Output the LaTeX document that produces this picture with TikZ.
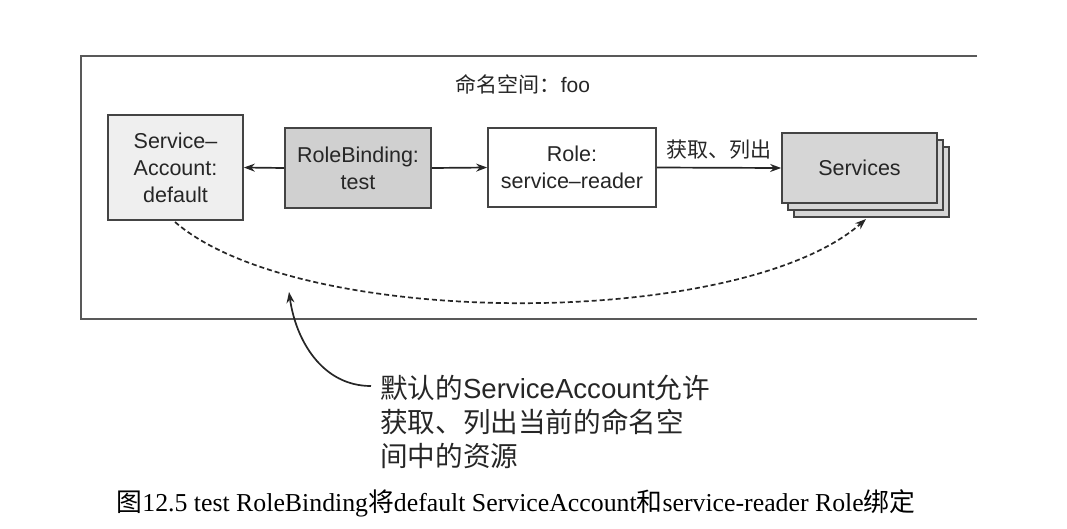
\documentclass[tikz,border=0pt]{standalone}
\usepackage{fontspec}
\setmainfont{Liberation Sans}
\newfontfamily\cjk{Noto Sans CJK SC}
\newfontfamily\capserif{Liberation Serif}
\usetikzlibrary{arrows.meta}
\definecolor{edge}{HTML}{444444}
\definecolor{lightfill}{HTML}{EFEFEF}
\definecolor{midfill}{HTML}{D0D0D0}
\definecolor{svcfill}{HTML}{D6D6D6}
\tikzset{
  box/.style={draw=edge, line width=1.7pt, minimum width=#1, align=center, inner sep=0pt, text=black!85,
    font=\fontsize{21.5}{27}\selectfont},
  conn/.style={line width=1.7pt, draw=black!85, -{Stealth[length=11pt,width=8pt]}},
  dashconn/.style={line width=1.7pt, draw=black!85, dash pattern=on 5pt off 3pt, -{Stealth[length=11pt,width=8pt]}},
}
\begin{document}
\begin{tikzpicture}[x=1pt,y=-1pt]
\useasboundingbox (0,0) rectangle (1067,528);
% namespace frame (open on the right)
\draw[draw=black!65, line width=1.8pt] (977,56) -- (81,56) -- (81,319) -- (977,319);
\node[font=\fontsize{21}{27}\selectfont, text=black!85] (ns) at (523,84) {{\cjk 命名空间：}foo};

\node[box=135pt, fill=lightfill, minimum height=105pt] (sa) at (175.5,167.5) {Service–\\Account:\\default};
\node[box=146pt, fill=midfill, minimum height=80pt] (rb) at (358,168) {RoleBinding:\\test};
\node[box=168pt, fill=white, minimum height=79pt] (role) at (572,167.5) {Role:\\service–reader};

\node[box=155pt, fill=svcfill, minimum height=70pt] (svc3) at (871.5,182) {};
\node[box=155pt, fill=svcfill, minimum height=70pt] (svc2) at (865.5,175) {};
\node[box=155pt, fill=svcfill, minimum height=70pt] (svc) at (859.5,168) {Services};

\draw[conn] (rb.west) -- (sa.east);
\draw[conn] (rb.east) -- (role.west);
\draw[conn] (role.east) -- node[above=4pt, font=\fontsize{21}{27}\selectfont\cjk, text=black!85] (verbs) {获取、列出} (svc.west);

\coordinate (dstart) at (175,222);
\coordinate (dend) at (866,219);
\draw[dashconn] (dstart) .. controls (300,330) and (740,330) .. (dend);

\node[anchor=north west, inner sep=0pt, align=left, font=\fontsize{27.6}{34}\selectfont, text=black!85] (note) at (380,375)
  {{\cjk 默认的}ServiceAccount{\cjk 允许}\\{\cjk 获取、列出当前的命名空}\\{\cjk 间中的资源}};
\coordinate (nstart) at (371,386);
\coordinate (nend) at (289,292);
\draw[conn] (nstart) to[out=180, in=-82] (nend);

\node[font=\fontsize{25.8}{30}\selectfont\capserif] (cap) at (516,503)
  {{\cjk 图}12.5 test RoleBinding{\cjk 将}default ServiceAccount{\cjk 和}service-reader Role{\cjk 绑定}};
\end{tikzpicture}
\end{document}
